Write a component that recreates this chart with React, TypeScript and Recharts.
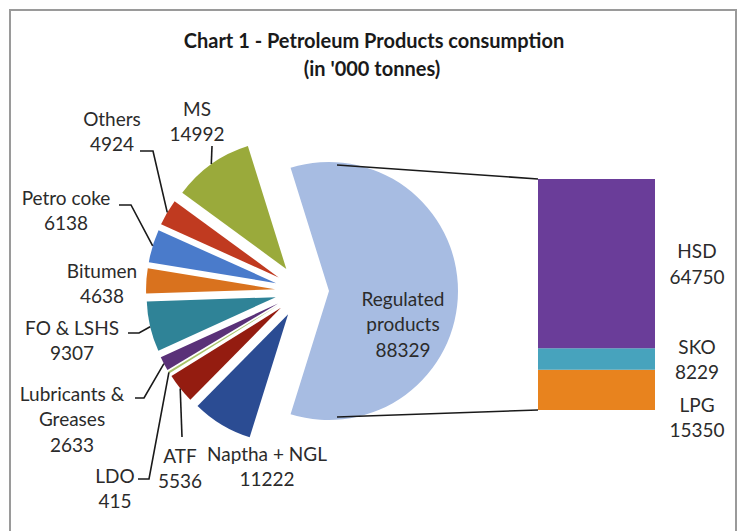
import React from 'react';
import { PieChart, Pie, Cell, Sector, BarChart, Bar, XAxis, YAxis, LabelList } from 'recharts';

// ---- data ----
const pieNames = ['MS', 'Others', 'Petro coke', 'Bitumen', 'FO & LSHS', 'Lubricants & Greases', 'LDO', 'ATF', 'Naptha + NGL', 'Regulated products'];
const pieValues = [14992, 4924, 6138, 4638, 9307, 2633, 415, 5536, 11222, 88329];
const barNames = ['LPG', 'SKO', 'HSD'];
const barValues = [15350, 8229, 64750];

// ---- styles / layout ----
const pieColors = ['#9AAA3B', '#C03A20', '#4A7BCB', '#D9721E', '#2F8397', '#5A3178', '#A9C36A', '#941C10', '#2B4C93', '#A7BCE2'];
const barColors = ['#E8831E', '#47A3BD', '#6A3D99'];
const FONT = 'Lato, "Open Sans", sans-serif';
const TEXT = '#2b2b2b';
const CX = 302;
const CY = 291;
const R = 129;
const EXPLODE = 27;
const BAR_LEFT = 538;
const BAR_TOP = 179;
const BAR_W = 117;
const BAR_H = 231;
const BAR_EXTRA = 60;

// label layout: text lines, center x, first line y, optional leader start & elbow
const pieLabelLayout: { lines: string[]; x: number; y: number; leader?: number[][] }[] = [
  { lines: ['MS', '14992'], x: 197, y: 108, leader: [[212, 146]] },
  { lines: ['Others', '4924'], x: 112, y: 118, leader: [[140, 151], [153, 151]] },
  { lines: ['Petro coke', '6138'], x: 66, y: 197, leader: [[119, 205], [131, 205]] },
  { lines: ['Bitumen', '4638'], x: 102, y: 270 },
  { lines: ['FO & LSHS', '9307'], x: 72, y: 327, leader: [[128, 333], [139, 333]] },
  { lines: ['Lubricants &', 'Greases', '2633'], x: 72, y: 393, leader: [[135, 398], [144, 398]] },
  { lines: ['LDO', '415'], x: 115, y: 475, leader: [[138, 479], [149, 479]] },
  { lines: ['ATF', '5536'], x: 180, y: 455, leader: [[182, 437]] },
  { lines: ['Naptha + NGL', '11222'], x: 267, y: 453 },
  { lines: ['Regulated', 'products', '88329'], x: 403, y: 298 },
];
const barLabelDy = [27, 0, 0];
const LINE_H = 25.5;

const pieData = pieNames.map((name, i) => ({ name, value: pieValues[i] }));
const total = pieValues.reduce((a, b) => a + b, 0);
const regValue = pieValues[pieValues.length - 1];
const startAngle = (180 * regValue) / total;

const barRow: Record<string, number | string> = { name: 'Regulated' };
barNames.forEach((n, i) => {
  barRow[n] = barValues[i];
});
const barData = [barRow];

const RAD = Math.PI / 180;

const ExplodedSector = (props: any) => {
  const { cx, cy, midAngle } = props;
  const dx = EXPLODE * Math.cos(-midAngle * RAD);
  const dy = EXPLODE * Math.sin(-midAngle * RAD);
  return <Sector {...props} cx={cx + dx} cy={cy + dy} stroke="none" />;
};

const renderPieLabel = (props: any) => {
  const { cx, cy, midAngle, outerRadius, index } = props;
  const lay = pieLabelLayout[index];
  if (!lay) return null;
  const vx = cx + EXPLODE * Math.cos(-midAngle * RAD);
  const vy = cy + EXPLODE * Math.sin(-midAngle * RAD);
  const ax = vx + outerRadius * Math.cos(-midAngle * RAD);
  const ay = vy + outerRadius * Math.sin(-midAngle * RAD);
  let path = '';
  if (lay.leader) {
    const pts = [...lay.leader, [ax, ay]];
    path = pts.map((p, i) => `${i === 0 ? 'M' : 'L'}${p[0]},${p[1]}`).join(' ');
  }
  return (
    <g key={`lbl-${index}`}>
      {path && <path d={path} stroke="#1a1a1a" strokeWidth={1.6} fill="none" />}
      <text x={lay.x} y={lay.y} textAnchor="middle" fontFamily={FONT} fontSize={19} fill={TEXT}>
        {lay.lines.map((l, i) => (
          <tspan key={i} x={lay.x} y={lay.y + i * LINE_H} dominantBaseline="central">
            {l}
          </tspan>
        ))}
      </text>
    </g>
  );
};

const makeBarLabel = (i: number) => (props: any) => {
  const { x, y, width, height } = props;
  const tx = x + width + 42;
  const my = y + height / 2 + barLabelDy[i];
  return (
    <text x={tx} y={my} textAnchor="middle" fontFamily={FONT} fontSize={19} fill={TEXT}>
      <tspan x={tx} y={my - LINE_H / 2} dominantBaseline="central">{barNames[i]}</tspan>
      <tspan x={tx} y={my + LINE_H / 2} dominantBaseline="central">{barValues[i]}</tspan>
    </text>
  );
};

export default function App() {
  const regVx = CX + EXPLODE;
  return (
    <div style={{ position: 'absolute', left: 0, top: 0, width: 738, height: 531, background: '#fff', overflow: 'hidden' }}>
      <div style={{ position: 'absolute', left: 0, top: 0 }}>
        <PieChart width={738} height={531} margin={{ top: 0, right: 0, bottom: 0, left: 0 }}>
          <Pie
            data={pieData}
            dataKey="value"
            nameKey="name"
            cx={CX}
            cy={CY}
            outerRadius={R}
            startAngle={startAngle}
            endAngle={startAngle + 360}
            stroke="none"
            isAnimationActive={false}
            shape={ExplodedSector}
            label={renderPieLabel}
            labelLine={false}
          >
            {pieData.map((d, i) => (
              <Cell key={d.name} fill={pieColors[i]} />
            ))}
          </Pie>
        </PieChart>
      </div>
      <div style={{ position: 'absolute', left: BAR_LEFT, top: BAR_TOP }}>
        <BarChart
          width={BAR_W + 90}
          height={BAR_H + BAR_EXTRA}
          data={barData}
          margin={{ top: 0, right: 90, bottom: BAR_EXTRA, left: 0 }}
          barCategoryGap={0}
        >
          <XAxis dataKey="name" hide />
          <YAxis hide domain={[0, regValue]} />
          {barNames.map((n, i) => (
            <Bar key={n} dataKey={n} stackId="a" fill={barColors[i]} isAnimationActive={false}>
              <LabelList dataKey={n} content={makeBarLabel(i)} />
            </Bar>
          ))}
        </BarChart>
      </div>
      <svg width={738} height={531} style={{ position: 'absolute', left: 0, top: 0, pointerEvents: 'none' }}>
        <rect x={10} y={10} width={726} height={540} fill="none" stroke="#9a9a9a" strokeWidth={2} />
        <text x={374} y={40} textAnchor="middle" dominantBaseline="central" fontFamily={FONT} fontWeight="bold" fontSize={20} fill="#1a1a1a">
          Chart 1 - Petroleum Products consumption
        </text>
        <text x={372} y={68} textAnchor="middle" dominantBaseline="central" fontFamily={FONT} fontWeight="bold" fontSize={20} fill="#1a1a1a">
          (in '000 tonnes)
        </text>
        <line x1={regVx + 8} y1={CY - R + 3} x2={BAR_LEFT} y2={BAR_TOP} stroke="#1a1a1a" strokeWidth={1.6} />
        <line x1={regVx + 8} y1={CY + R - 3} x2={BAR_LEFT} y2={BAR_TOP + BAR_H} stroke="#1a1a1a" strokeWidth={1.6} />
      </svg>
    </div>
  );
}
